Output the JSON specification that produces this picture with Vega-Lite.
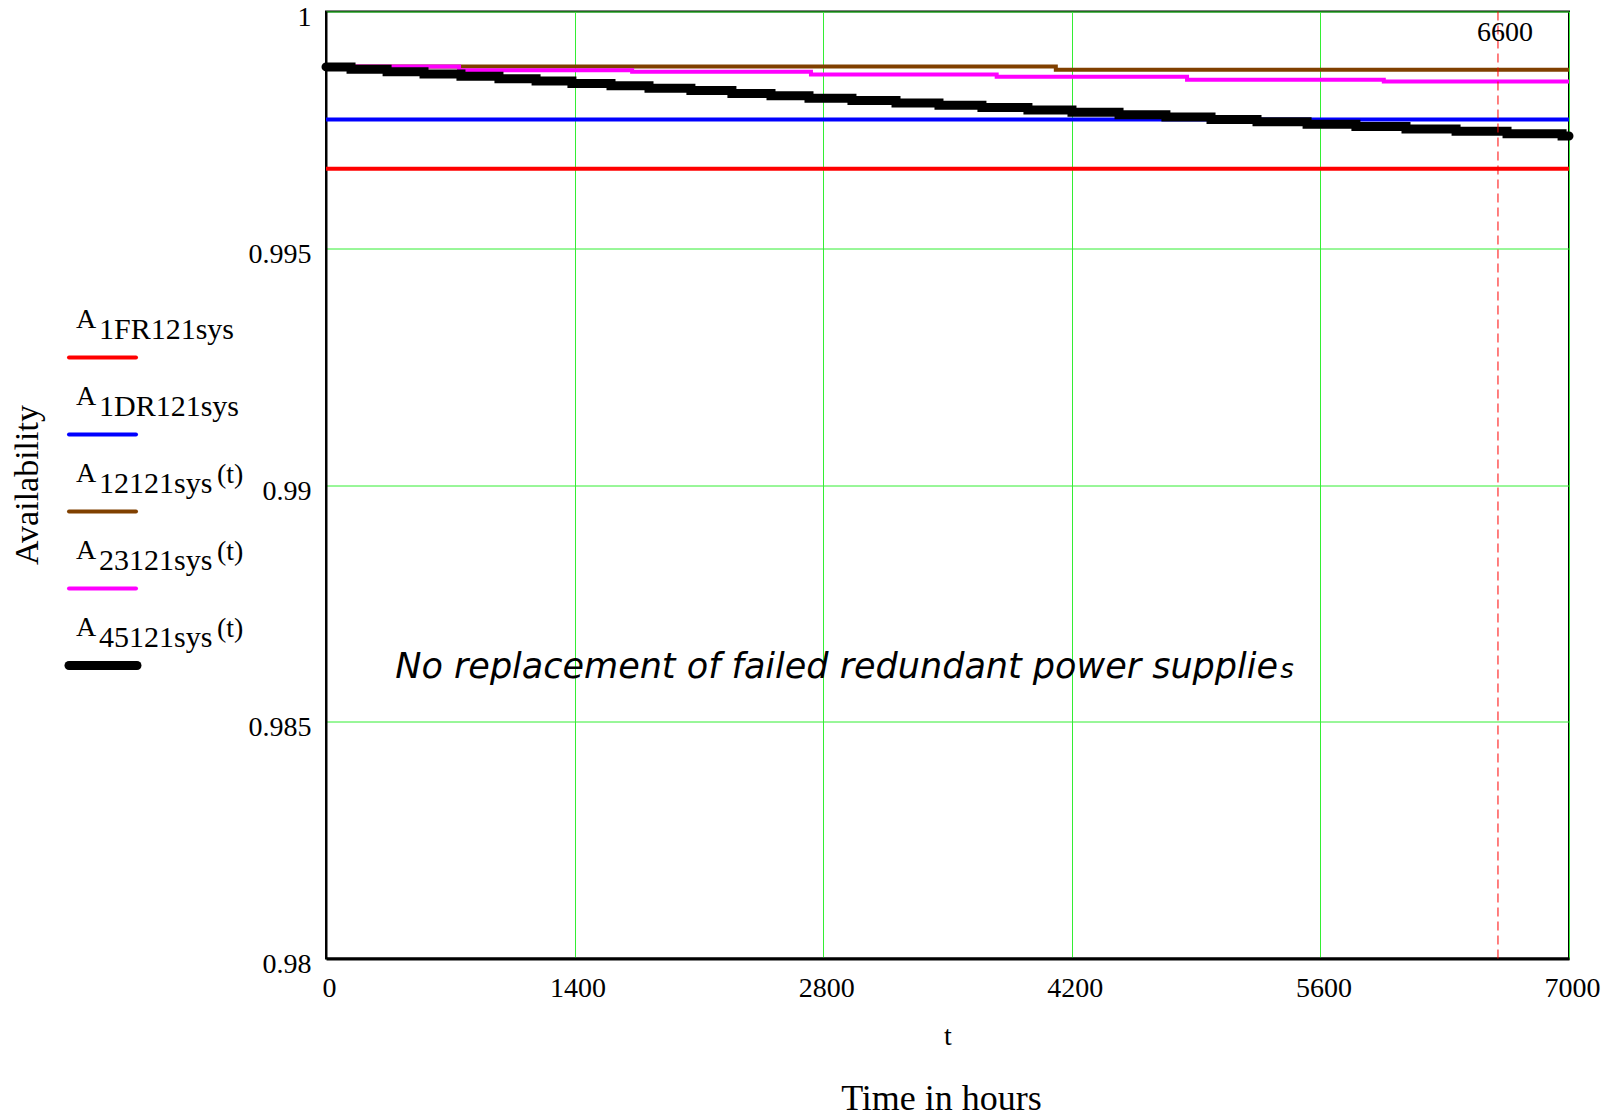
{
  "$schema": "https://vega.github.io/schema/vega-lite/v6.json",
  "background": "white",
  "padding": {"left": 10, "top": 2.5, "right": 5, "bottom": 5},
  "datasets": {
    "curves": [
      {"series": "A1FR121sys", "t": 0, "v": 0.99668},
      {"series": "A1FR121sys", "t": 7000, "v": 0.99668},
      {"series": "A1DR121sys", "t": 0, "v": 0.99772},
      {"series": "A1DR121sys", "t": 7000, "v": 0.99772},
      {"series": "A12121sys(t)", "t": 0, "v": 0.99884},
      {"series": "A12121sys(t)", "t": 4110, "v": 0.99877},
      {"series": "A12121sys(t)", "t": 7000, "v": 0.99877},
      {"series": "A23121sys(t)", "t": 0, "v": 0.99884},
      {"series": "A23121sys(t)", "t": 749, "v": 0.99876},
      {"series": "A23121sys(t)", "t": 1724, "v": 0.99873},
      {"series": "A23121sys(t)", "t": 2731, "v": 0.99867},
      {"series": "A23121sys(t)", "t": 3777, "v": 0.99862},
      {"series": "A23121sys(t)", "t": 4849, "v": 0.99856},
      {"series": "A23121sys(t)", "t": 5957, "v": 0.99852},
      {"series": "A23121sys(t)", "t": 7000, "v": 0.99852},
      {"series": "A45121sys(t)", "t": 0, "v": 0.99883},
      {"series": "A45121sys(t)", "t": 141, "v": 0.99878},
      {"series": "A45121sys(t)", "t": 344, "v": 0.99873},
      {"series": "A45121sys(t)", "t": 552, "v": 0.99868},
      {"series": "A45121sys(t)", "t": 760, "v": 0.99863},
      {"series": "A45121sys(t)", "t": 974, "v": 0.99858},
      {"series": "A45121sys(t)", "t": 1183, "v": 0.99853},
      {"series": "A45121sys(t)", "t": 1385, "v": 0.99848},
      {"series": "A45121sys(t)", "t": 1605, "v": 0.99843},
      {"series": "A45121sys(t)", "t": 1819, "v": 0.99838},
      {"series": "A45121sys(t)", "t": 2055, "v": 0.99833},
      {"series": "A45121sys(t)", "t": 2286, "v": 0.99827},
      {"series": "A45121sys(t)", "t": 2506, "v": 0.99822},
      {"series": "A45121sys(t)", "t": 2720, "v": 0.99817},
      {"series": "A45121sys(t)", "t": 2962, "v": 0.99812},
      {"series": "A45121sys(t)", "t": 3210, "v": 0.99807},
      {"series": "A45121sys(t)", "t": 3452, "v": 0.99802},
      {"series": "A45121sys(t)", "t": 3694, "v": 0.99797},
      {"series": "A45121sys(t)", "t": 3953, "v": 0.99792},
      {"series": "A45121sys(t)", "t": 4201, "v": 0.99787},
      {"series": "A45121sys(t)", "t": 4466, "v": 0.99782},
      {"series": "A45121sys(t)", "t": 4730, "v": 0.99777},
      {"series": "A45121sys(t)", "t": 4984, "v": 0.99772},
      {"series": "A45121sys(t)", "t": 5243, "v": 0.99767},
      {"series": "A45121sys(t)", "t": 5525, "v": 0.99762},
      {"series": "A45121sys(t)", "t": 5800, "v": 0.99757},
      {"series": "A45121sys(t)", "t": 6082, "v": 0.99752},
      {"series": "A45121sys(t)", "t": 6364, "v": 0.99747},
      {"series": "A45121sys(t)", "t": 6651, "v": 0.99742},
      {"series": "A45121sys(t)", "t": 6961, "v": 0.99737},
      {"series": "A45121sys(t)", "t": 7000, "v": 0.99737}
    ],
    "legend": [
      {"series": "A1FR121sys", "main": "A", "sub": "1FR121sys", "sup": ""},
      {"series": "A1DR121sys", "main": "A", "sub": "1DR121sys", "sup": ""},
      {"series": "A12121sys(t)", "main": "A", "sub": "12121sys", "sup": "(t)"},
      {"series": "A23121sys(t)", "main": "A", "sub": "23121sys", "sup": "(t)"},
      {"series": "A45121sys(t)", "main": "A", "sub": "45121sys", "sup": "(t)"}
    ]
  },
  "spacing": 0,
  "bounds": "flush",
  "hconcat": [
    {
      "width": 267,
      "height": 947,
      "view": {"stroke": null},
      "data": {"name": "legend"},
      "encoding": {
        "y": {
          "field": "series",
          "type": "nominal",
          "scale": {"type": "point", "domain": ["A1FR121sys", "A1DR121sys", "A12121sys(t)", "A23121sys(t)", "A45121sys(t)"], "range": [346, 654], "padding": 0},
          "axis": {"title": "Availability", "labels": false, "ticks": false, "domain": false, "grid": false, "titlePadding": 15, "titleFontSize": 34, "titleFont": "Liberation Serif", "titleFontWeight": "normal", "titleColor": "black", "titleY": 473}
        },
        "color": {"field": "series", "type": "nominal", "scale": {"domain": ["A1FR121sys", "A1DR121sys", "A12121sys(t)", "A23121sys(t)", "A45121sys(t)"], "range": ["#ff0000", "#0000ff", "#804000", "#ff00ff", "#000000"]}, "legend": null}
      },
      "layer": [
        {
          "transform": [{"filter": "datum.series !== 'A45121sys(t)'"}],
          "mark": {"type": "rule", "strokeCap": "round", "strokeWidth": 4},
          "encoding": {
            "x": {"datum": 10, "type": "quantitative", "scale": {"domain": [0, 267], "nice": false, "zero": false}, "axis": null},
            "x2": {"datum": 77}
          }
        },
        {
          "transform": [{"filter": "datum.series === 'A45121sys(t)'"}],
          "mark": {"type": "rule", "strokeCap": "round", "strokeWidth": 9},
          "encoding": {
            "x": {"datum": 10, "type": "quantitative", "axis": null},
            "x2": {"datum": 78}
          }
        },
        {
          "mark": {"type": "text", "align": "left", "baseline": "alphabetic", "dy": -30, "font": "Liberation Serif", "fontSize": 28},
          "encoding": {"x": {"datum": 17, "type": "quantitative", "axis": null}, "text": {"field": "main"}, "color": {"value": "black"}}
        },
        {
          "mark": {"type": "text", "align": "left", "baseline": "alphabetic", "dx": 23, "dy": -19, "font": "Liberation Serif", "fontSize": 30},
          "encoding": {"x": {"datum": 17, "type": "quantitative", "axis": null}, "text": {"field": "sub"}, "color": {"value": "black"}}
        },
        {
          "mark": {"type": "text", "align": "left", "baseline": "alphabetic", "dx": 141, "dy": -29, "font": "Liberation Serif", "fontSize": 28},
          "encoding": {"x": {"datum": 17, "type": "quantitative", "axis": null}, "text": {"field": "sup"}, "color": {"value": "black"}}
        }
      ]
    },
    {
      "width": 1243,
      "height": 947,
      "title": {"text": "Time in hours", "orient": "bottom", "font": "Liberation Serif", "fontSize": 36, "fontWeight": "normal", "color": "black", "offset": 31, "frame": "group", "anchor": "middle", "dx": -6},
      "layer": [
        {
          "data": {"name": "curves"},
          "transform": [{"filter": "datum.series !== 'A45121sys(t)'"}],
          "mark": {"type": "line", "interpolate": "step-after", "strokeWidth": 4},
          "encoding": {
            "x": {
              "field": "t", "type": "quantitative",
              "scale": {"domain": [0, 7000], "nice": false, "zero": false},
              "axis": {"values": [0, 1400, 2800, 4200, 5600, 7000], "format": "d", "title": "t", "grid": true, "gridColor": "#33ee33", "gridWidth": 1, "ticks": false, "domain": true, "domainColor": "black", "domainWidth": 3, "labelFont": "Liberation Serif", "labelFontSize": 28, "labelColor": "black", "labelPadding": 16, "labelOffset": 3, "labelFlush": false, "labelOverlap": false, "titleFont": "Liberation Serif", "titleFontSize": 28, "titleFontWeight": "normal", "titleColor": "black", "titlePadding": 20}
            },
            "y": {
              "field": "v", "type": "quantitative",
              "scale": {"domain": [0.98, 1], "nice": false, "zero": false},
              "axis": {"values": [0.98, 0.985, 0.99, 0.995, 1], "format": "~g", "title": null, "grid": true, "gridColor": "#33ee33", "gridWidth": 1, "ticks": false, "domain": true, "domainColor": "black", "domainWidth": 2, "labelFont": "Liberation Serif", "labelFontSize": 28, "labelColor": "black", "labelPadding": 15, "labelOffset": 6, "labelFlush": false, "labelOverlap": false}
            },
            "color": {"field": "series", "type": "nominal", "scale": {"domain": ["A1FR121sys", "A1DR121sys", "A12121sys(t)", "A23121sys(t)", "A45121sys(t)"], "range": ["#ff0000", "#0000ff", "#804000", "#ff00ff", "#000000"]}, "legend": null}
          }
        },
        {
          "data": {"name": "curves"},
          "transform": [{"filter": "datum.series === 'A45121sys(t)'"}],
          "mark": {"type": "line", "interpolate": "step-after", "strokeWidth": 9, "strokeCap": "round", "color": "#000000"},
          "encoding": {
            "x": {"field": "t", "type": "quantitative"},
            "y": {"field": "v", "type": "quantitative"}
          }
        },
        {
          "data": {"values": [{}]},
          "mark": {"type": "rule", "color": "#ff0000", "strokeDash": [9, 5], "strokeWidth": 1},
          "encoding": {"x": {"datum": 6600, "type": "quantitative"}}
        },
        {
          "data": {"values": [{}]},
          "mark": {"type": "text", "align": "center", "baseline": "alphabetic", "dx": 7, "font": "Liberation Serif", "fontSize": 28, "color": "black"},
          "encoding": {"x": {"datum": 6600, "type": "quantitative"}, "y": {"datum": 0.99937, "type": "quantitative"}, "text": {"value": "6600"}}
        },
        {
          "data": {"values": [{}]},
          "mark": {"type": "text", "align": "left", "baseline": "alphabetic", "font": "DejaVu Sans", "fontStyle": "italic", "fontSize": 35, "color": "black"},
          "encoding": {"x": {"datum": 390, "type": "quantitative"}, "y": {"datum": 0.98593, "type": "quantitative"}, "text": {"value": "No replacement of failed redundant power supplie"}}
        },
        {
          "data": {"values": [{}]},
          "mark": {"type": "text", "align": "left", "baseline": "alphabetic", "dx": 885, "font": "DejaVu Sans", "fontStyle": "italic", "fontSize": 26, "color": "black"},
          "encoding": {"x": {"datum": 390, "type": "quantitative"}, "y": {"datum": 0.98593, "type": "quantitative"}, "text": {"value": "s"}}
        }
      ]
    }
  ],
  "config": {
    "view": {"stroke": "black", "strokeWidth": 2},
    "font": "Liberation Serif"
  }
}
